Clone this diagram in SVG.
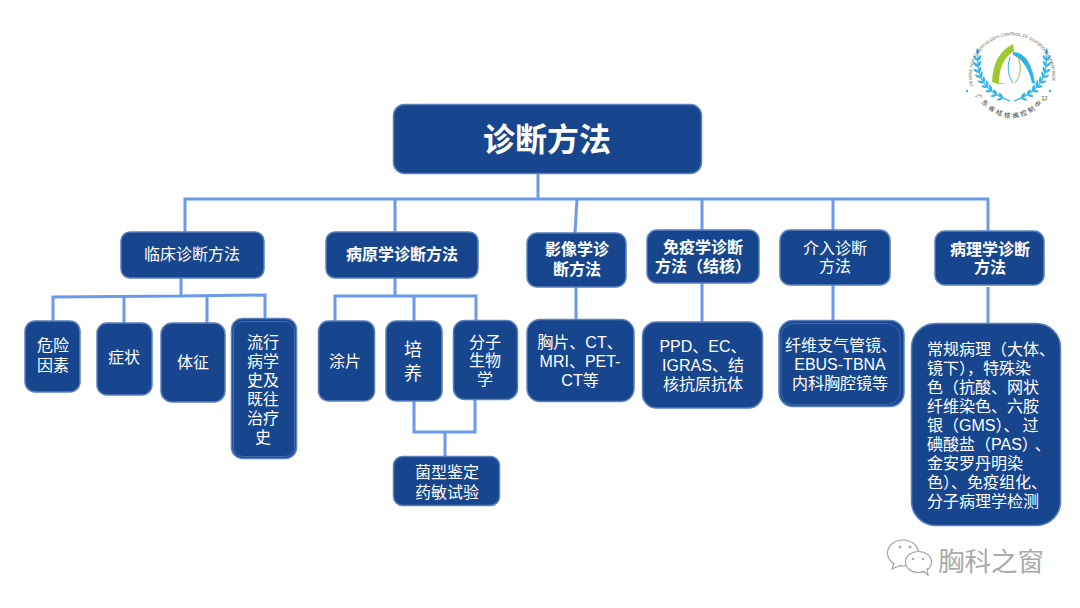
<svg xmlns="http://www.w3.org/2000/svg" width="1080" height="608" viewBox="0 0 1080 608">
<style>
.n{fill:#17468e;stroke:#5a80bd;stroke-width:1.5}
.i{fill:none;stroke:#3f6aab;stroke-width:1}
.t{fill:#fff;font-family:"Liberation Sans","Noto Sans CJK SC",sans-serif;font-size:16px;text-anchor:middle}
.b{font-weight:bold}
.l{text-anchor:start}
.c{fill:none;stroke:#6a9ae8;stroke-width:3}
.leafb{fill:#2fb4e9}
.g{fill:#fff;stroke:#a5a5a5;stroke-width:1.2}
</style>
<rect width="1080" height="608" fill="#fff"/>
<g id="connectors">
<path class="c" d="M538 174V199M185 232V199H988V232M395 199V232M577 199L575 233M702 199V230M833 199V230"/>
<path class="c" d="M181 278V296M53 321V297L181 296L265 295V318M124 296V323M207 296V323"/>
<path class="c" d="M395 278V296M335 321V296H476V320M414 296V321"/>
<path class="c" d="M414 401V432H475V400M445 432V456"/>
<path class="c" d="M576 287V319M702 283V322M833 285V320M988 287V323"/>
</g>
<g id="root"><rect class="n" x="393.500" y="104.500" width="308" height="69" rx="11"/><text class="t b" x="547" y="151" style="font-size:32px">诊断方法</text></g>
<g id="n1"><rect class="n" x="121" y="232" width="143" height="46" rx="9"/><text class="t" x="192" y="260">临床诊断方法</text></g>
<g id="n2"><rect class="n" x="326" y="232" width="152" height="46" rx="9"/><text class="t b" x="402" y="260">病原学诊断方法</text></g>
<g id="n3"><rect class="n" x="527" y="233" width="99" height="54" rx="10"/><text class="t b" x="577" y="255">影像学诊</text><text class="t b" x="577" y="275">断方法</text></g>
<g id="n4"><rect class="n" x="647" y="230" width="112" height="53" rx="10"/><text class="t b" x="703" y="253">免疫学诊断</text><text class="t b" x="703" y="272">方法（结核）</text></g>
<g id="n5"><rect class="n" x="780" y="230" width="110" height="55" rx="10"/><text class="t" x="835" y="254">介入诊断</text><text class="t" x="835" y="272">方法</text></g>
<g id="n6"><rect class="n" x="935" y="231" width="109" height="54" rx="10"/><text class="t b" x="990" y="255">病理学诊断</text><text class="t b" x="990" y="273">方法</text></g>
<g id="a1"><rect class="n" x="25" y="321" width="55" height="71" rx="10"/><text class="t" x="53" y="351">危险</text><text class="t" x="53" y="371">因素</text></g>
<g id="a2"><rect class="n" x="97" y="323" width="55" height="72" rx="10"/><text class="t" x="124" y="363">症状</text></g>
<g id="a3"><rect class="n" x="161" y="323" width="64" height="79" rx="11"/><text class="t" x="193" y="368">体征</text></g>
<g id="a4"><rect class="n" x="231.500" y="318.500" width="65" height="140" rx="11"/><rect class="i" x="233.500" y="321.500" width="61" height="135" rx="10"/><text class="t" x="263" y="348">流行</text><text class="t" x="263" y="367">病学</text><text class="t" x="263" y="386">史及</text><text class="t" x="263" y="405">既往</text><text class="t" x="263" y="424">治疗</text><text class="t" x="263" y="443">史</text></g>
<g id="b1"><rect class="n" x="318.500" y="321" width="56" height="80" rx="10"/><text class="t" x="345" y="367">涂片</text></g>
<g id="b2"><rect class="n" x="386" y="321" width="56" height="80" rx="10"/><text class="t" x="413" y="356" style="font-size:18px">培</text><text class="t" x="413" y="380" style="font-size:18px">养</text></g>
<g id="b3"><rect class="n" x="453.500" y="320.500" width="64" height="79" rx="11"/><text class="t" x="485" y="348">分子</text><text class="t" x="485" y="366">生物</text><text class="t" x="485" y="385">学</text></g>
<g id="b4"><rect class="n" x="393.500" y="456.500" width="106" height="49" rx="9"/><text class="t" x="447" y="478">菌型鉴定</text><text class="t" x="447" y="498">药敏试验</text></g>
<g id="c1"><rect class="n" x="527" y="319.500" width="107" height="82" rx="13"/><text class="t" x="580" y="348">胸片、CT、</text><text class="t" x="580" y="367">MRI、PET-</text><text class="t" x="580" y="386">CT等</text></g>
<g id="d1"><rect class="n" x="642.500" y="322" width="120" height="86" rx="14"/><text class="t" x="703" y="352">PPD、EC、</text><text class="t" x="703" y="371">IGRAS、结</text><text class="t" x="703" y="390">核抗原抗体</text></g>
<g id="e1"><rect class="n" x="779" y="320.500" width="125" height="86" rx="14"/><rect class="i" x="781" y="323.500" width="119" height="81" rx="13"/><text class="t" x="841" y="351">纤维支气管镜、</text><text class="t" x="840" y="370">EBUS-TBNA</text><text class="t" x="840" y="389">内科胸腔镜等</text></g>
<g id="f1"><rect class="n" x="911.500" y="323.500" width="149" height="202" rx="24"/>
<text class="t l" x="927" y="355">常规病理（大体、</text><text class="t l" x="927" y="374">镜下），特殊染</text><text class="t l" x="927" y="393">色（抗酸、网状</text><text class="t l" x="927" y="412">纤维染色、六胺</text><text class="t l" x="927" y="431">银（GMS）、<tspan dx="3">过</tspan></text><text class="t l" x="927" y="450">碘酸盐（PAS）<tspan dx="5">、</tspan></text><text class="t l" x="927" y="469">金安罗丹明染</text><text class="t l" x="927" y="488">色）、免疫组化、</text><text class="t l" x="927" y="507">分子病理学检测</text></g>
<g id="logo">
<defs><path id="ring" d="M973 86A40.300 40.300 0 1 1 1051 86"/><path id="ring2" d="M975 96Q1012 140 1049 96"/>
<path id="leaf" class="leafb" d="M0 0Q3 -3 7 -1Q4 2 0 0Z"/>
<g id="laurel">
<path d="M978 55Q974 88 1010 101" fill="none" stroke="#2fb4e9" stroke-width="1.200"/>
<use href="#leaf" transform="translate(978 55) rotate(-90)"/>
<use href="#leaf" transform="translate(978 61) rotate(-125)"/><use href="#leaf" transform="translate(978 61) rotate(-55)"/>
<use href="#leaf" transform="translate(978 67) rotate(-127)"/><use href="#leaf" transform="translate(978 67) rotate(-57)"/>
<use href="#leaf" transform="translate(979 73) rotate(-135)"/><use href="#leaf" transform="translate(979 73) rotate(-65)"/>
<use href="#leaf" transform="translate(981 78) rotate(-145)"/><use href="#leaf" transform="translate(981 78) rotate(-75)"/>
<use href="#leaf" transform="translate(984 83) rotate(-155)"/><use href="#leaf" transform="translate(984 83) rotate(-85)"/>
<use href="#leaf" transform="translate(988 87) rotate(-165)"/><use href="#leaf" transform="translate(988 87) rotate(-95)"/>
<use href="#leaf" transform="translate(992 91) rotate(-175)"/><use href="#leaf" transform="translate(992 91) rotate(-105)"/>
<use href="#leaf" transform="translate(997 95) rotate(-183)"/><use href="#leaf" transform="translate(997 95) rotate(-113)"/>
<use href="#leaf" transform="translate(1003 98) rotate(-190)"/><use href="#leaf" transform="translate(1003 98) rotate(-120)"/>
</g></defs>
<path d="M992 82Q993 54 1013 44L1014 51Q999 60 999 83L1008 84L998 84Z" fill="#9dc92f"/>
<path d="M1013 52Q1030 52 1035 83L1032 83Q1027 61 1013 55Z" fill="#2fb4e9"/>
<path d="M1010 57Q1005 72 1013 83" fill="none" stroke="#2fb4e9" stroke-width="1"/>
<path d="M1018 57Q1024 72 1015 83" fill="none" stroke="#9dc92f" stroke-width="1"/>
<use href="#laurel"/><use href="#laurel" transform="translate(2024 0) scale(-1 1)"/>
<circle cx="967" cy="91" r="1.200" fill="#2fb4e9"/><circle cx="1050" cy="91" r="1.200" fill="#2fb4e9"/>
<text font-family="Liberation Sans,sans-serif" font-size="4.200" fill="#555"><textPath href="#ring">CENTRE FOR TUBERCULOSIS CONTROL OF GUANGDONG PROVINCE</textPath></text>
<text font-family="Noto Sans CJK SC,sans-serif" font-size="6.500" fill="#333" letter-spacing="2.500"><textPath href="#ring2">广东省结核病控制中心</textPath></text>
</g>
<g id="watermark">
<ellipse class="g" cx="903" cy="553" rx="15.500" ry="13"/><path class="g" d="M894 563L892 569L901 565"/>
<ellipse class="g" cx="918.500" cy="562" rx="13" ry="10.500"/><path class="g" d="M923 571L928 575L927 568"/>
<circle cx="900" cy="547" r="1.500" fill="#aaa"/><circle cx="910" cy="547" r="1.500" fill="#aaa"/><circle cx="913" cy="559" r="1.300" fill="#aaa"/><circle cx="923" cy="559" r="1.300" fill="#aaa"/>
<text x="938" y="571" font-family="Noto Sans CJK SC,sans-serif" font-size="26.500" fill="#aaa">胸科之窗</text>
</g>
</svg>
